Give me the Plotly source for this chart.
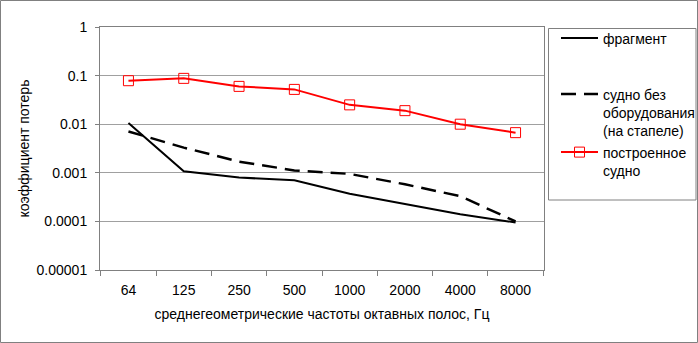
import plotly.graph_objects as go

freqs = ["64", "125", "250", "500", "1000", "2000", "4000", "8000"]
fragment = [0.0106, 0.00108, 0.0008, 0.0007, 0.00037, 0.00023, 0.00014, 0.000095]
bare_hull = [0.0071, 0.0033, 0.0017, 0.00112, 0.00095, 0.00058, 0.00033, 0.0001]
built_ship = [0.0785, 0.0877, 0.060, 0.052, 0.025, 0.019, 0.010, 0.0067]

names = ["фрагмент", "судно без<br>оборудования<br>(на стапеле)", "построенное<br>судно"]
y_ticks = [1, 0.1, 0.01, 0.001, 0.0001, 0.00001]
y_tick_text = ["1", "0.1", "0.01", "0.001", "0.0001", "0.00001"]

FONT = "Liberation Sans, Arial, sans-serif"
FS = 14

fig = go.Figure()
fig.add_trace(go.Scatter(x=freqs, y=fragment, name=names[0], mode="lines",
                         line=dict(color="black", width=2), legend="legend", showlegend=True))
fig.add_trace(go.Scatter(x=freqs, y=bare_hull, name=names[1], mode="lines",
                         line=dict(color="black", width=2.5, dash="15px,8px"), legend="legend2",
                         showlegend=True))
fig.add_trace(go.Scatter(x=freqs, y=built_ship, name=names[2], mode="lines+markers",
                         line=dict(color="#ff0000", width=2),
                         marker=dict(symbol="square-open", size=10, color="#ff0000",
                                     line=dict(color="#ff0000", width=1)),
                         legend="legend3", showlegend=True))

W, H = 698, 343
L, R, T, B = 100, 154, 27, 73
pw, ph = W - L - R, H - T - B

def px(x):
    return (x - L) / pw

def py(y):
    return (H - B - y) / ph

leg_common = dict(bgcolor="rgba(0,0,0,0)", borderwidth=0, font=dict(family=FONT, size=FS, color="black"),
                  xanchor="left", yanchor="top", valign="top", itemwidth=37, tracegroupgap=0,
                  visible=True)

fig.update_layout(
    width=W, height=H,
    showlegend=True,
    margin=dict(l=L, r=R, t=T, b=B, autoexpand=False),
    paper_bgcolor="white", plot_bgcolor="white",
    font=dict(family=FONT, size=FS, color="black"),
    legend=dict(x=px(556), y=py(22.5), **leg_common),
    legend2=dict(x=px(556), y=py(78.5), **leg_common),
    legend3=dict(x=px(556), y=py(136.5), **leg_common),
    xaxis=dict(type="category", showgrid=False, showline=True, linecolor="#808080", linewidth=1,
               mirror=True, ticks="outside", tickson="boundaries", ticklen=5, tickcolor="#808080",
               ticklabelstandoff=7,
               tickfont=dict(family=FONT, size=FS, color="black"),
               title=dict(text="среднегеометрические частоты октавных полос, Гц",
                          font=dict(family=FONT, size=FS, color="black"), standoff=12)),
    yaxis=dict(type="log", range=[-5, 0], tickvals=y_ticks, ticktext=y_tick_text,
               showgrid=True, gridcolor="#a0a0a0", gridwidth=1,
               showline=True, linecolor="#808080", linewidth=1, mirror=True,
               ticks="outside", ticklen=4, tickcolor="#808080",
               ticklabelstandoff=5,
               tickfont=dict(family=FONT, size=FS, color="black"),
               title=dict(text="коэффициент потерь", font=dict(family=FONT, size=FS, color="black"),
                          standoff=3)),
    shapes=[
        dict(type="rect", xref="paper", yref="paper",
             x0=px(548.5), x1=px(696), y0=py(200), y1=py(28.5),
             line=dict(color="#808080", width=1), fillcolor="rgba(0,0,0,0)", layer="above"),
        dict(type="rect", xref="paper", yref="paper",
             x0=px(0.5), x1=px(697.5), y0=py(342.5), y1=py(0.5),
             line=dict(color="#808080", width=1), fillcolor="rgba(0,0,0,0)", layer="above"),
    ],
)

fig.write_html("out.html", config={"displayModeBar": False},
               post_script="document.body.style.margin='0px';")
